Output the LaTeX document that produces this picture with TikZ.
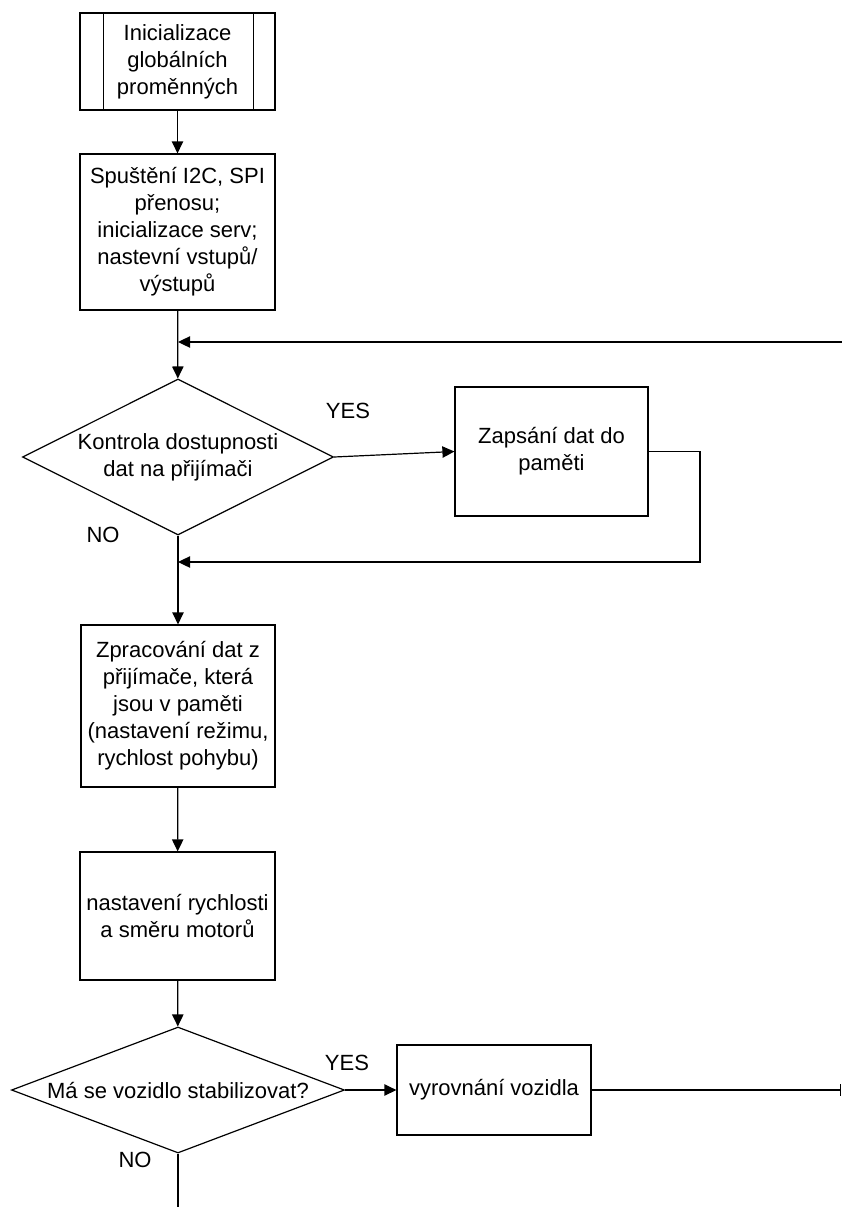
\documentclass[tikz,border=0pt]{standalone}
\usepackage{fontspec}
\setmainfont{Liberation Sans}
\usetikzlibrary{shapes.geometric,arrows.meta,calc}

\begin{document}
\begin{tikzpicture}[
    x=0.75pt, y=-0.75pt,
    line width=0.9pt,
    every node/.style={font=\fontsize{16.5}{20.25}\selectfont},
    box/.style={draw, rectangle, align=center, inner sep=2pt, minimum width=146.25pt},
    decision/.style={draw, diamond, align=center, inner sep=0pt},
    answer/.style={inner sep=0pt},
    arr/.style={-{Triangle[length=9pt, width=8.5pt]}},
]
    \useasboundingbox (0,0) rectangle (842,1207);
    % Main column
    \node[box, minimum height=72.75pt] (init) at (177.5,61.5) {Inicializace\\globálních\\proměnných};
    \draw ([xshift=18pt]init.north west) -- ([xshift=18pt]init.south west);
    \draw ([xshift=-16.5pt]init.north east) -- ([xshift=-16.5pt]init.south east);
    \node[box, minimum height=117pt] (setup) at (177.5,232) {Spuštění I2C, SPI\\přenosu;\\inicializace serv;\\nastevní vstupů/\\výstupů};
    \node[decision, aspect=2, minimum width=233.25pt, minimum height=117pt] (check) at (178,457) {Kontrola dostupnosti\\dat na přijímači};
    \node[box, minimum width=144.75pt, minimum height=96.75pt] (store) at (551.5,451.5) {Zapsání dat do\\paměti};
    \node[box, minimum width=145.5pt, minimum height=121.5pt] (proc) at (178,706) {Zpracování dat z\\přijímače, která\\jsou v paměti\\(nastavení režimu,\\rychlost pohybu)};
    \node[box, minimum height=96pt] (motor) at (177.5,916) {nastavení rychlosti\\a směru motorů};
    \node[decision, aspect=2.64, minimum width=249.75pt, minimum height=94.5pt] (stab) at (178,1090) {Má se vozidlo stabilizovat?};
    \node[box, minimum width=145.5pt, minimum height=67.5pt] (level) at (494,1090) {vyrovnání vozidla};
    % Labels
    \node[answer] (yes1) at (348,411) {YES};
    \node[answer] (no1) at (103,535) {NO};
    \node[answer] (yes2) at (347,1063) {YES};
    \node[answer] (no2) at (135,1160) {NO};
    % Join points
    \coordinate (loopin) at (842,342);
    \coordinate (m1) at (178,342);
    \coordinate (storeturn) at (700,562);
    \coordinate (m2) at (178,562);
    \coordinate (exitR) at (841,1090);
    \coordinate (bottomout) at (178,1207);
    % Connectors
    \draw[arr] (init) -- (setup);
    \draw[arr] (setup) -- (check);
    \draw[arr] (loopin) -- (m1);
    \draw[arr] (check.east) -- (store.west);
    \draw[arr] (store.east) -| (storeturn) -- (m2);
    \draw[arr] (check.south) -- (proc);
    \draw[arr] (proc) -- (motor);
    \draw[arr] (motor) -- (stab);
    \draw[arr] (stab.east) -- (level.west);
    \draw[-{Bar[width=9pt]}] (level.east) -- (exitR);
    \draw (stab.south) -- (bottomout);
\end{tikzpicture}
\end{document}
